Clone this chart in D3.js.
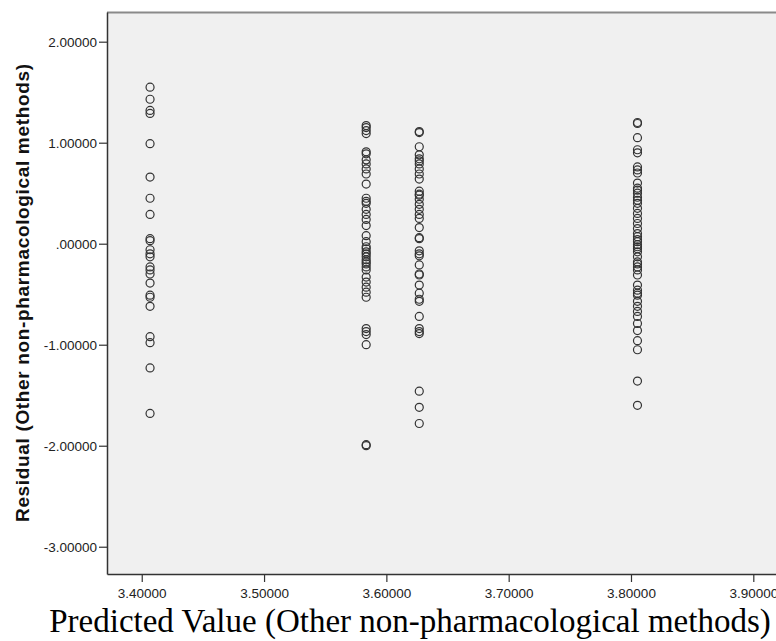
<!DOCTYPE html>
<html>
<head>
<meta charset="utf-8">
<script src="https://cdn.jsdelivr.net/npm/d3@7"></script>
<style>
  html, body { margin: 0; padding: 0; background: #ffffff; }
  svg { display: block; }
</style>
</head>
<body>
<svg id="chart" width="776" height="641"></svg>
<script>
// Predicted values (one per group of cases)
const predicted = [3.4068, 3.5835, 3.6269, 3.8053];

// Residuals of the cases sharing each predicted value
const residualsA = [1.55, 1.43, 1.32, 1.29, 0.99, 0.66, 0.45, 0.29, 0.05, 0.03, -0.06, -0.10, -0.13,
  -0.23, -0.26, -0.30, -0.39, -0.51, -0.53, -0.62, -0.92, -0.98, -1.23, -1.68];
const residualsB = [1.17, 1.15, 1.12, 1.09, 0.91, 0.89, 0.83, 0.79, 0.74, 0.69, 0.59, 0.45, 0.42, 0.40,
  0.34, 0.29, 0.24, 0.18, 0.08, 0.02, -0.03, -0.05, -0.08, -0.10, -0.13, -0.16, -0.18, -0.20, -0.23, -0.26,
  -0.33, -0.38, -0.43, -0.48, -0.53, -0.84, -0.87, -0.90, -1.00, -1.99, -2.00];
const residualsC = [1.11, 1.10, 0.96, 0.88, 0.84, 0.82, 0.79, 0.74, 0.69, 0.64, 0.52, 0.49, 0.48, 0.44,
  0.39, 0.34, 0.29, 0.25, 0.16, 0.06, 0.05, -0.07, -0.10, -0.12, -0.21, -0.30, -0.31, -0.41, -0.49,
  -0.55, -0.57, -0.72, -0.84, -0.87, -0.89, -1.46, -1.62, -1.78];
const residualsD = [1.20, 1.19, 1.05, 0.93, 0.90, 0.76, 0.73, 0.70, 0.60, 0.55, 0.53, 0.50, 0.46, 0.43,
  0.40, 0.35, 0.30, 0.25, 0.20, 0.15, 0.10, 0.07, 0.04, 0.02, -0.01, -0.03, -0.05, -0.08, -0.13, -0.18,
  -0.20, -0.23, -0.26, -0.31, -0.41, -0.46, -0.49, -0.51, -0.57, -0.62, -0.67, -0.72, -0.79, -0.86,
  -0.96, -1.05, -1.36, -1.60];

const residualGroups = [residualsA, residualsB, residualsC, residualsD];

const xTicks = [3.4, 3.5, 3.6, 3.7, 3.8, 3.9];
const yTicks = [-3, -2, -1, 0, 1, 2];

const xTitle = "Predicted Value (Other non-pharmacological methods)";
const yTitle = "Residual (Other non-pharmacological methods)";

// Flatten into point records
const points = [];
residualGroups.forEach((group, i) => {
  group.forEach(r => points.push({ x: predicted[i], y: r }));
});

const svg = d3.select("#chart");

const plot = { left: 107, top: 12, right: 790, bottom: 574 };

const x = d3.scaleLinear().domain([3.3716, 3.930]).range([plot.left, plot.right]);
const y = d3.scaleLinear().domain([-3.270, 2.294]).range([plot.bottom, plot.top]);

// Five decimals, no leading zero, plain hyphen for negatives
const fmt = v => d3.format(".5f")(v)
  .replace("\u2212", "-")
  .replace(/^0\./, ".")
  .replace(/^-0\./, "-.");

// Plot background
svg.append("rect")
  .attr("x", plot.left).attr("y", plot.top)
  .attr("width", plot.right - plot.left).attr("height", plot.bottom - plot.top)
  .attr("fill", "#f0f0f0");

// Top frame line
svg.append("line")
  .attr("x1", plot.left).attr("x2", 776)
  .attr("y1", plot.top + 0.5).attr("y2", plot.top + 0.5)
  .attr("stroke", "#8a8a8a").attr("stroke-width", 2);

// Points
svg.append("clipPath").attr("id", "plotclip")
  .append("rect").attr("x", plot.left).attr("y", plot.top)
  .attr("width", plot.right - plot.left).attr("height", plot.bottom - plot.top);

svg.append("g").attr("clip-path", "url(#plotclip)")
  .selectAll("circle").data(points).join("circle")
  .attr("cx", d => x(d.x))
  .attr("cy", d => y(d.y))
  .attr("r", 4)
  .attr("fill", "none")
  .attr("stroke", "#333")
  .attr("stroke-width", 1.2);

// Axes
const yAxis = d3.axisLeft(y).tickValues(yTicks).tickFormat(fmt).tickSizeInner(8).tickSizeOuter(0).tickPadding(2);
const xAxis = d3.axisBottom(x).tickValues(xTicks).tickFormat(fmt).tickSizeInner(8).tickSizeOuter(0).tickPadding(6);

const gy = svg.append("g").attr("transform", `translate(${plot.left},0)`).call(yAxis);
const gx = svg.append("g").attr("transform", `translate(0,${plot.bottom})`).call(xAxis);

[gx, gy].forEach(g => {
  g.select(".domain").attr("stroke", "#333").attr("stroke-width", 1.5);
  g.selectAll(".tick line").attr("stroke", "#333").attr("stroke-width", 1.2);
  g.selectAll(".tick text")
    .attr("fill", "#222")
    .style("font-family", "'Liberation Sans', Arial, sans-serif")
    .style("font-size", "13.5px");
});

// Titles
svg.append("text")
  .attr("transform", `translate(22,${(plot.top + plot.bottom) / 2}) rotate(-90)`)
  .attr("text-anchor", "middle")
  .attr("dy", "0.35em")
  .attr("textLength", 458)
  .attr("lengthAdjust", "spacing")
  .style("font-family", "'Liberation Sans', Arial, sans-serif")
  .style("font-size", "19px")
  .style("font-weight", "bold")
  .attr("fill", "#111")
  .text(yTitle);

svg.append("text")
  .attr("x", 410)
  .attr("y", 632)
  .attr("text-anchor", "middle")
  .style("font-family", "'Liberation Serif', 'Times New Roman', serif")
  .style("font-size", "33px")
  .attr("fill", "#000")
  .text(xTitle);
</script>
</body>
</html>
